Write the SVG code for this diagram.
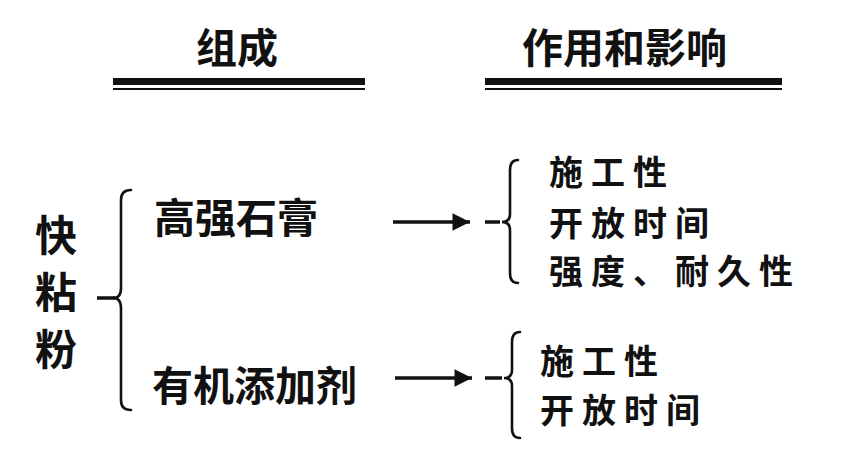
<svg xmlns="http://www.w3.org/2000/svg" width="867" height="462" viewBox="0 0 867 462">
<defs>
<style>
text{font-family:"Noto Sans CJK SC","Noto Sans CJK TC",sans-serif;font-weight:bold;fill:#111;dominant-baseline:central}
.h{font-size:41px}
.t{font-size:41px}
.v{font-size:42px}
.r{font-size:34px;letter-spacing:8px}
.br{fill:none;stroke:#111;stroke-width:2.6;stroke-linecap:round}
.ln{stroke:#111;stroke-width:3.5}
</style>
<marker id="ah" viewBox="0 0 10 10" refX="10" refY="5" markerWidth="6" markerHeight="5" markerUnits="strokeWidth" orient="auto"><path d="M0,0 L10,5 L0,10 z" fill="#111"/></marker>
</defs>
<rect width="867" height="462" fill="#fff"/>
<g id="header-left">
<text class="h" x="196" y="45">组成</text>
<rect x="113" y="78" width="252" height="7" fill="#111"/>
<rect x="113" y="88" width="252" height="2" fill="#111"/>
</g>
<g id="header-right">
<text class="h" x="522" y="45">作用和影响</text>
<rect x="485" y="78" width="297" height="7" fill="#111"/>
<rect x="485" y="88" width="297" height="2" fill="#111"/>
</g>
<g id="root">
<text class="v" x="35" y="232">快</text>
<text class="v" x="35" y="289">粘</text>
<text class="v" x="35" y="346">粉</text>
</g>
<g id="comp1"><text class="t" x="154" y="215">高强石膏</text></g>
<g id="comp2"><text class="t" x="152" y="383">有机添加剂</text></g>
<g id="eff1">
<text class="r" x="549" y="170">施工性</text>
<text class="r" x="549" y="221">开放时间</text>
<text class="r" x="549" y="269">强度、耐久性</text>
</g>
<g id="eff2">
<text class="r" x="540" y="359">施工性</text>
<text class="r" x="540" y="408">开放时间</text>
</g>
<g id="connectors">
<line class="ln" x1="97" y1="298" x2="115" y2="298"/>
<path class="br" d="M131,190 Q121,190 121,200 L121,288 Q121,298 113,298 Q121,298 121,308 L121,400 Q121,410 131,410"/>
<line class="ln" x1="393" y1="222" x2="470" y2="222" marker-end="url(#ah)"/>
<line class="ln" x1="485" y1="222" x2="500" y2="222"/>
<path class="br" d="M518,160 Q510,160 510,170 L510,214 Q510,222 502,222 Q510,222 510,230 L510,273 Q510,283 518,283"/>
<line class="ln" x1="395" y1="378" x2="472" y2="378" marker-end="url(#ah)"/>
<line class="ln" x1="485" y1="378" x2="502" y2="378"/>
<path class="br" d="M520,332 Q512,332 512,342 L512,370 Q512,378 504,378 Q512,378 512,386 L512,428 Q512,438 520,438"/>
</g>
</svg>
